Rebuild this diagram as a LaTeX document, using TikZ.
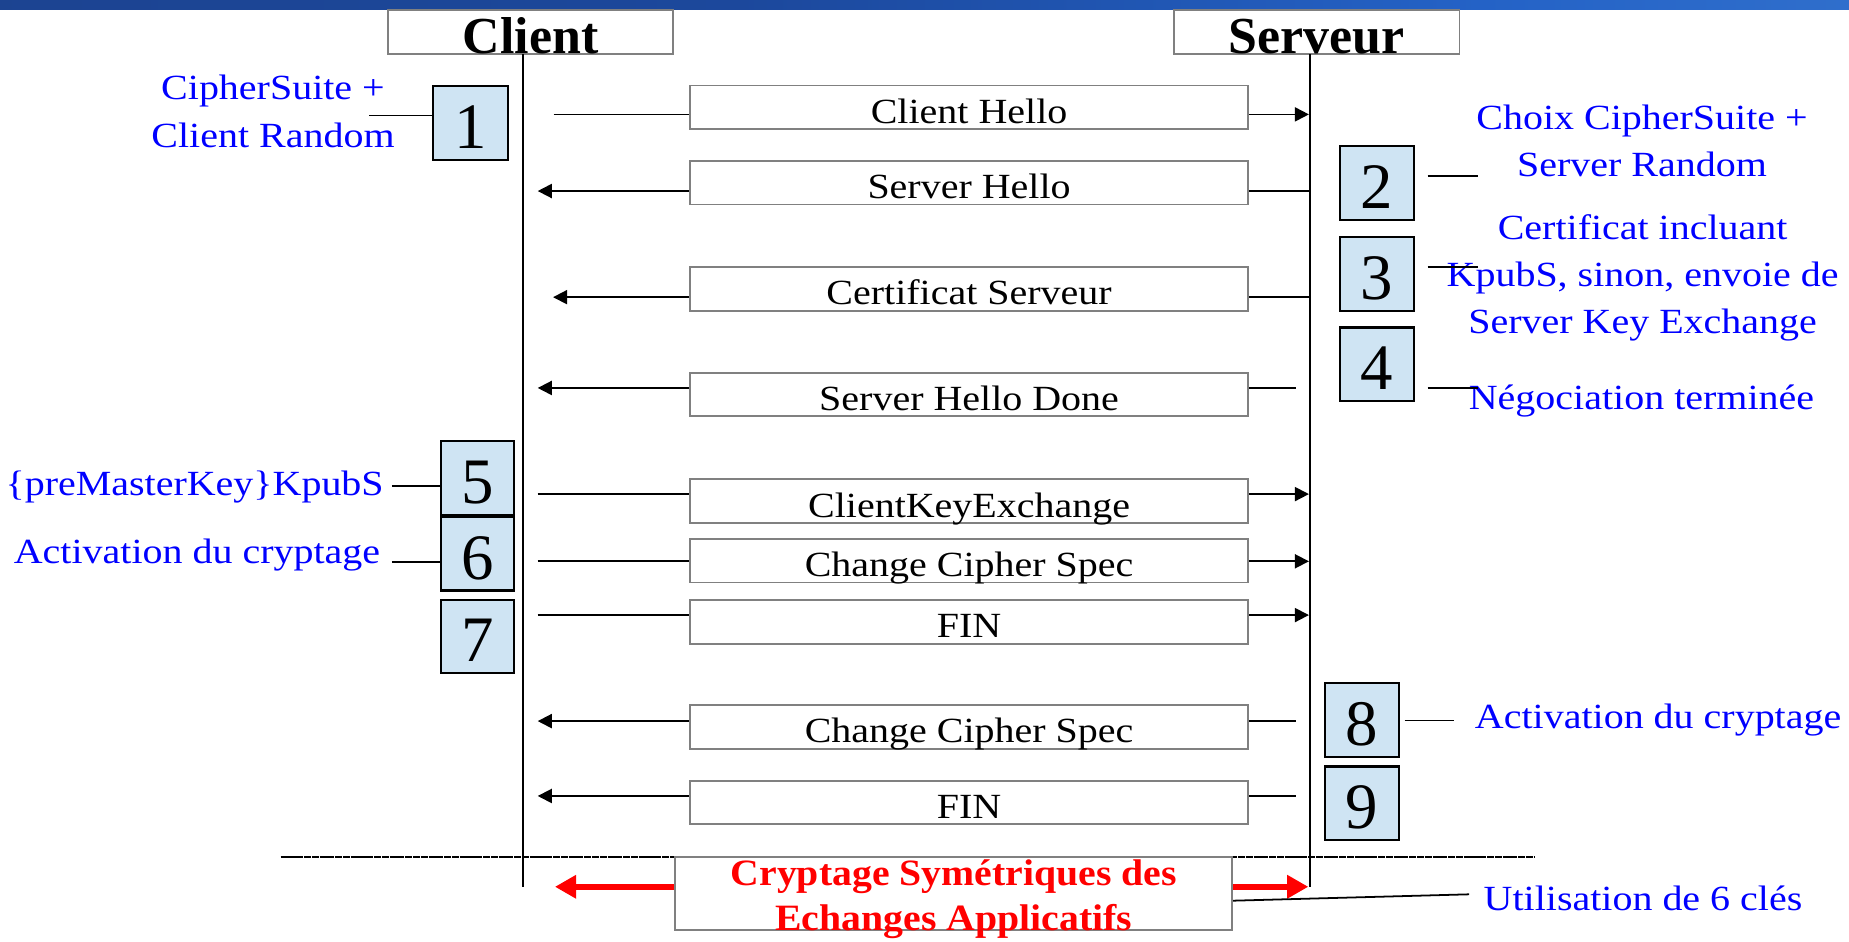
\documentclass[tikz,border=0pt]{standalone}
\usepackage{fontspec}
\setmainfont{Liberation Serif}
\usetikzlibrary{arrows.meta}
\definecolor{boxblue}{RGB}{207,228,243}
\definecolor{framegray}{RGB}{128,128,128}
\definecolor{annblue}{RGB}{0,0,255}
\definecolor{annred}{RGB}{255,0,0}
\definecolor{barA}{RGB}{27,62,132}
\definecolor{barB}{RGB}{28,72,156}
\definecolor{barC}{RGB}{36,98,198}
\definecolor{barD}{RGB}{76,141,218}
\pgfdeclarehorizontalshading{topbar}{100bp}{color(0bp)=(barA); color(45bp)=(barB); color(65bp)=(barC); color(100bp)=(barD)}
\newcommand\hsx[1]{\scalebox{1.13}[1]{#1}}
\newcommand\hsxr[1]{\scalebox{1.07}[1]{#1}}
\begin{document}
\begin{tikzpicture}[x=1pt,y=-1pt,
  msgbox/.style={draw=framegray,fill=white,line width=1.5pt,minimum width=473.6pt,minimum height=37pt,inner sep=0pt,text height=30pt,text depth=3pt,font=\fontsize{30}{40}\selectfont},
  hdrbox/.style={draw=framegray,fill=white,line width=1.5pt,minimum width=242pt,minimum height=37.5pt,inner sep=0pt,text height=35.5pt,text depth=0pt,font=\fontsize{44}{50}\selectfont\bfseries},
  numbox/.style={draw=black,line width=1.8pt,fill=boxblue,minimum width=62.5pt,minimum height=62.5pt,inner sep=0pt,text height=43pt,text depth=0pt,font=\fontsize{55}{60}\selectfont},
  ann/.style={text=annblue,inner sep=0pt,font=\fontsize{30}{40}\selectfont},
  life/.style={line width=1.7pt},
  msgline/.style={line width=1.5pt},
  msgarrow/.style={line width=1.5pt,-{Triangle[length=12pt,width=12pt]}},
  annline/.style={line width=1.5pt},
  bigarrow/.style={draw=annred,line width=5pt,-{Triangle[length=18pt,width=19pt]}},
  sepline/.style={line width=1.8pt,dash pattern=on 6pt off 0.6pt},
]
\useasboundingbox (0,0) rectangle (1568,798);
\shade[shading=topbar] (0,0) rectangle (1568,8);

% headers and lifelines
\node[hdrbox] (hc) at (450,27.25) {Client};
\node[hdrbox] (hs) at (1116.7,27.25) {Serveur};
\coordinate (cTop) at (443.8,46);
\coordinate (cBot) at (443.8,752);
\coordinate (sTop) at (1110.8,46);
\coordinate (sBot) at (1110.8,752);
\draw[life] (cTop) -- (cBot);
\draw[life] (sTop) -- (sBot);

% separator
\draw[sepline] (238,726.5) -- (1302,726.5);

% messages
\node[msgbox] (m1) at (821.8,91) {\hsx{Client Hello}};
\node[msgbox] (m2) at (821.8,155) {\hsx{Server Hello}};
\node[msgbox] (m3) at (821.8,245) {\hsx{Certificat Serveur}};
\node[msgbox] (m4) at (821.8,334.5) {\hsx{Server Hello Done}};
\node[msgbox] (m5) at (821.8,425) {\hsx{ClientKeyExchange}};
\node[msgbox] (m6) at (821.8,475.5) {\hsx{Change Cipher Spec}};
\node[msgbox] (m7) at (821.8,527.5) {\hsx{FIN}};
\node[msgbox] (m8) at (821.8,616.5) {\hsx{Change Cipher Spec}};
\node[msgbox] (m9) at (821.8,680.5) {\hsx{FIN}};

% message connectors
\coordinate (e1a) at (469.5,97);   \coordinate (e1b) at (1110,97);
\draw[msgline] (e1a) -- (m1.west |- e1a);
\draw[msgarrow] (m1.east |- e1a) -- (e1b);
\coordinate (e2a) at (1111,162);   \coordinate (e2b) at (456,162);
\draw[msgline] (e2a) -- (m2.east |- e2a);
\draw[msgarrow] (m2.west |- e2a) -- (e2b);
\coordinate (e3a) at (1111,252);   \coordinate (e3b) at (469,252);
\draw[msgline] (e3a) -- (m3.east |- e3a);
\draw[msgarrow] (m3.west |- e3a) -- (e3b);
\coordinate (e4a) at (1099,329);   \coordinate (e4b) at (456,329);
\draw[msgline] (e4a) -- (m4.east |- e4a);
\draw[msgarrow] (m4.west |- e4a) -- (e4b);
\coordinate (e5a) at (456,419);    \coordinate (e5b) at (1110,419);
\draw[msgline] (e5a) -- (m5.west |- e5a);
\draw[msgarrow] (m5.east |- e5a) -- (e5b);
\coordinate (e6a) at (456,476);    \coordinate (e6b) at (1110,476);
\draw[msgline] (e6a) -- (m6.west |- e6a);
\draw[msgarrow] (m6.east |- e6a) -- (e6b);
\coordinate (e7a) at (456,521.6);  \coordinate (e7b) at (1110,521.6);
\draw[msgline] (e7a) -- (m7.west |- e7a);
\draw[msgarrow] (m7.east |- e7a) -- (e7b);
\coordinate (e8a) at (1099,611.5); \coordinate (e8b) at (456,611.5);
\draw[msgline] (e8a) -- (m8.east |- e8a);
\draw[msgarrow] (m8.west |- e8a) -- (e8b);
\coordinate (e9a) at (1099,675);   \coordinate (e9b) at (456,675);
\draw[msgline] (e9a) -- (m9.east |- e9a);
\draw[msgarrow] (m9.west |- e9a) -- (e9b);

% numbered steps
\node[numbox,minimum width=63.5pt,minimum height=63pt] (n1) at (398.75,104.5) {1};
\node[numbox] (n2) at (1167.8,155) {2};
\node[numbox] (n3) at (1167.8,232.2) {3};
\node[numbox] (n4) at (1167.8,309) {4};
\node[numbox] (n5) at (405,405.5) {5};
\node[numbox] (n6) at (405,469.5) {6};
\node[numbox] (n7) at (405,539.8) {7};
\node[numbox] (n8) at (1155,610.5) {8};
\node[numbox] (n9) at (1155,681.3) {9};

% annotations
\node[ann,anchor=base] (a1) at (231.5,84.8) {\hsx{\begin{tabular}[t]{@{}c@{}}CipherSuite +\\Client Random\end{tabular}}};
\node[ann,anchor=base] (a2) at (1392.5,110) {\hsx{\begin{tabular}[t]{@{}c@{}}Choix CipherSuite +\\Server Random\end{tabular}}};
\node[ann,anchor=base] (a3) at (1393,203) {\hsx{\begin{tabular}[t]{@{}c@{}}Certificat incluant\\KpubS, sinon, envoie de\\Server Key Exchange\end{tabular}}};
\node[ann,anchor=base] (a4) at (1392,347) {\hsx{Négociation terminée}};
\node[ann,anchor=base east] (a5) at (325.6,420) {\hsx{\{preMasterKey\}KpubS}};
\node[ann,anchor=base east] (a6) at (322.6,477.6) {\hsx{Activation du cryptage}};
\node[ann,anchor=base west] (a8) at (1250.6,617.6) {\hsx{Activation du cryptage}};
\node[ann,anchor=base west] (a10) at (1258,772) {\hsx{Utilisation de 6 clés}};

% annotation lines
\coordinate (k1) at (313,98);
\draw[annline] (k1) -- (n1.west |- k1);
\coordinate (k2a) at (1210.7,149.3); \coordinate (k2b) at (1253.5,149.3);
\draw[annline] (k2a) -- (k2b);
\coordinate (k3a) at (1210.7,226.2); \coordinate (k3b) at (1253.5,226.2);
\draw[annline] (k3a) -- (k3b);
\coordinate (k4a) at (1210.7,328.8); \coordinate (k4b) at (1253.5,328.8);
\draw[annline] (k4a) -- (k4b);
\coordinate (k5) at (332.4,412);
\draw[annline] (k5) -- (n5.west |- k5);
\coordinate (k6) at (332.4,476.3);
\draw[annline] (k6) -- (n6.west |- k6);
\coordinate (k8a) at (1191.2,610.9); \coordinate (k8b) at (1233,610.9);
\draw[annline] (k8a) -- (k8b);

% bottom box
\node[draw=framegray,fill=white,line width=1.5pt,minimum width=472.5pt,minimum height=62.2pt,inner sep=0pt] (bb) at (808.75,757.6) {};
\node[text=annred,inner sep=0pt,anchor=base,font=\fontsize{31.5}{38.2}\selectfont\bfseries] (rt) at (808.8,750.5) {\hsxr{\begin{tabular}[t]{@{}c@{}}Cryptage Symétriques des\\Echanges Applicatifs\end{tabular}}};
\coordinate (rl) at (470.6,752);
\coordinate (rr) at (1109.5,752);
\draw[bigarrow] (bb.west |- rl) -- (rl);
\draw[bigarrow] (bb.east |- rr) -- (rr);
\coordinate (k10) at (1245.8,758.4);
\draw[annline] (bb.east |- 0,763.8) -- (k10);
\end{tikzpicture}
\end{document}
